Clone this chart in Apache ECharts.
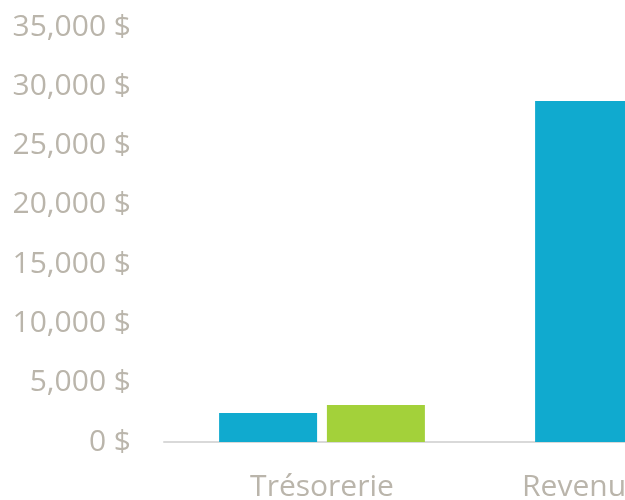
<!DOCTYPE html>
<html>
<head>
<meta charset="utf-8">
<script src="https://cdn.jsdelivr.net/npm/echarts@6/dist/echarts.min.js"></script>
<style>
  html, body { margin: 0; padding: 0; background: #fff; }
  #main { width: 625px; height: 500px; }
</style>
</head>
<body>
<div id="main"></div>
<script>
// categories (second one is cut off at the right edge of the picture)
var categories = ['Trésorerie', 'Revenu mensuel'];
var seriesA = [2450, 28750];
var seriesB = [3120, null];   // second value not visible
var yTicks = { min: 0, max: 35000, interval: 5000 };

var chart = echarts.init(document.getElementById('main'));

var labelColor = '#bab5ab';
var labelFont = '"Open Sans", "Noto Sans", sans-serif';

var option = {
  animation: false,
  grid: {
    left: 164,
    top: 27,
    bottom: 58,
    width: 632,
    containLabel: false,
    outerBoundsMode: 'none'
  },
  xAxis: {
    type: 'category',
    data: categories,
    axisLine: { lineStyle: { color: '#d9d9d9', width: 2 } },
    axisTick: { show: false },
    axisLabel: {
      color: labelColor,
      fontFamily: labelFont,
      fontSize: 30,
      margin: 30,
      interval: 0
    }
  },
  yAxis: {
    type: 'value',
    min: yTicks.min,
    max: yTicks.max,
    interval: yTicks.interval,
    axisLine: { show: false },
    axisTick: { show: false },
    splitLine: { show: false },
    axisLabel: {
      color: labelColor,
      fontFamily: labelFont,
      fontSize: 30,
      margin: 33,
      formatter: function (v) {
        return v.toLocaleString('en-US') + ' $';
      }
    }
  },
  series: [
    {
      type: 'bar',
      data: seriesA,
      barWidth: 98,
      barGap: '10%',
      itemStyle: { color: '#10aacf' }
    },
    {
      type: 'bar',
      data: seriesB,
      barWidth: 98,
      itemStyle: { color: '#a3d13a' }
    }
  ]
};

chart.setOption(option);
</script>
</body>
</html>
